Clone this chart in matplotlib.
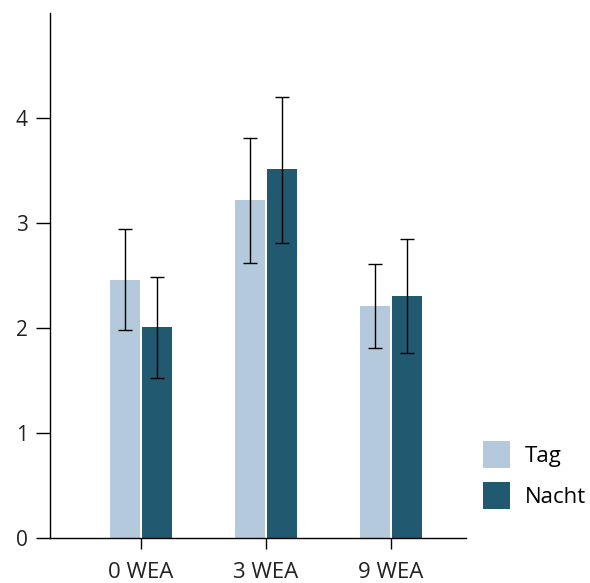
import numpy as np
import matplotlib.pyplot as plt

plt.rcParams['font.family'] = ['Open Sans', 'DejaVu Sans']

categories = ['0 WEA', '3 WEA', '9 WEA']
tag = [2.46, 3.22, 2.21]
tag_low = [1.98, 2.62, 1.81]
tag_high = [2.94, 3.81, 2.61]
nacht = [2.01, 3.515, 2.30]
nacht_low = [1.52, 2.81, 1.76]
nacht_high = [2.49, 4.20, 2.85]

col_tag = '#b4c9dc'
col_nacht = '#215a70'

fig = plt.figure(figsize=(5.9, 5.83), dpi=100)
ax = fig.add_axes([0.0847, 0.0772, 0.7053, 0.9005])

x = np.arange(len(categories))
w = 0.24
off = 0.13

tag = np.array(tag)
nacht = np.array(nacht)
tag_err = [tag - np.array(tag_low), np.array(tag_high) - tag]
nacht_err = [nacht - np.array(nacht_low), np.array(nacht_high) - nacht]

ax.bar(x - off, tag, w, color=col_tag, label='Tag')
ax.bar(x + off, nacht, w, color=col_nacht, label='Nacht')
ax.errorbar(x - off, tag, yerr=tag_err, fmt='none', ecolor='black',
            elinewidth=1, capsize=5, capthick=1)
ax.errorbar(x + off, nacht, yerr=nacht_err, fmt='none', ecolor='black',
            elinewidth=1, capsize=5, capthick=1)

ax.set_xlim(-0.728, 2.6)
ax.set_ylim(0, 5)
ax.set_yticks([0, 1, 2, 3, 4])
ax.set_xticks(x)
ax.set_xticklabels(categories)

for s in ['top', 'right']:
    ax.spines[s].set_visible(False)
for s in ['left', 'bottom']:
    ax.spines[s].set_linewidth(1)
ax.tick_params(axis='y', length=10, width=1, labelsize=15,
               labelcolor='#222222', pad=6)
ax.tick_params(axis='x', length=8, width=1, labelsize=16,
               labelcolor='#222222', pad=9)

fig.legend(loc='upper left', bbox_to_anchor=(0.818, 0.2436), frameon=False,
           fontsize=16, handlelength=1.22, handleheight=1.49,
           labelspacing=0.65, handletextpad=0.68, borderaxespad=0,
           borderpad=0)

fig.savefig('out.png', dpi=100)
